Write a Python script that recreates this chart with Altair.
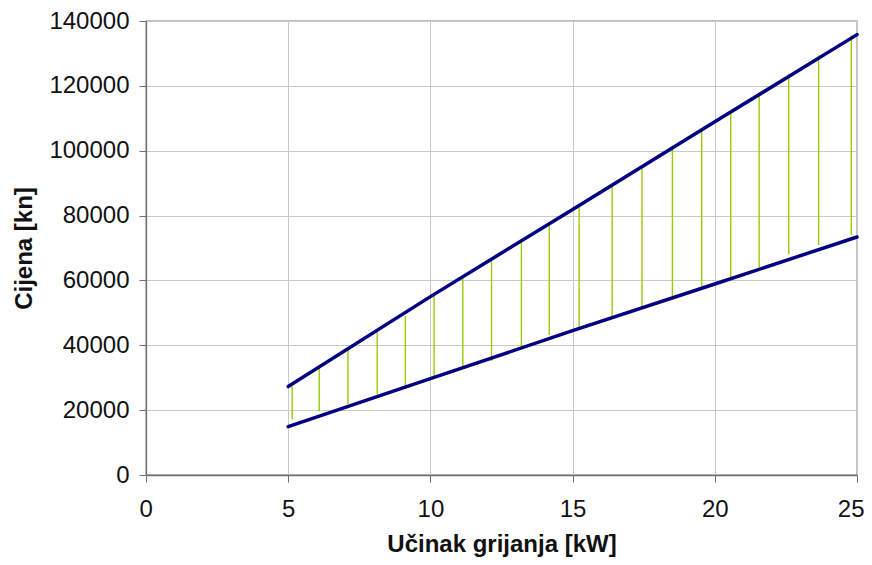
import altair as alt
import pandas as pd

# green high-low lines
x_pts = [5.14, 6.09, 7.10, 8.13, 9.12, 10.13, 11.14, 12.15, 13.20, 14.18,
         15.23, 16.39, 17.44, 18.51, 19.54, 20.56, 21.56, 22.60, 23.65, 24.80]
high = [27360, 33280, 39230, 44530, 49040, 55180, 60570, 66830, 72140, 77660,
        83180, 89530, 95050, 101580, 106700, 112010, 117740, 123750, 129400, 135530]
low = [17140, 19690, 21930, 24900, 26960, 30030, 33280, 35120, 39230, 43210,
       45360, 48870, 51280, 55180, 57630, 60680, 63950, 68060, 70910, 73980]

# trend lines
trend_x = [5, 10, 15, 20, 25]
upper_trend = [27300, 55000, 81900, 108900, 135800]
lower_trend = [14900, 29700, 44500, 58900, 73400]

x_ticks = [0, 5, 10, 15, 20, 25]
y_ticks = [0, 20000, 40000, 60000, 80000, 100000, 120000, 140000]

df_hl = pd.DataFrame({"x": x_pts, "high": high, "low": low})
df_tr = pd.DataFrame({
    "x": trend_x + trend_x,
    "y": upper_trend + lower_trend,
    "s": ["upper"] * len(trend_x) + ["lower"] * len(trend_x),
})

FONT = "Liberation Sans"
FS = 24

xscale = alt.Scale(domain=[0, 25], nice=False, zero=False)
yscale = alt.Scale(domain=[0, 140000], nice=False)

xaxis = alt.Axis(
    values=x_ticks, format="d", title="Učinak grijanja [kW]",
    grid=True, gridColor="#c8c8c8", gridWidth=1,
    domainColor="#707070", domainWidth=1.3, tickColor="#707070", tickSize=7,
    labelFontSize=FS, labelFont=FONT, labelColor="#111111", labelPadding=15,
    labelFlush=True, labelFlushOffset=7, labelOverlap=False,
    titleFontSize=FS, titleFont=FONT, titleFontWeight="bold", titleColor="#111111",
    titleBaseline="alphabetic", titleY=76,
)
yaxis = alt.Axis(
    values=y_ticks, format="d", title="Cijena [kn]",
    grid=True, gridColor="#c8c8c8", gridWidth=1,
    domainColor="#707070", domainWidth=1.3, tickColor="#707070", tickSize=7,
    labelFontSize=FS, labelFont=FONT, labelColor="#111111", labelPadding=10,
    labelFlush=False, labelOverlap=False,
    titleFontSize=FS, titleFont=FONT, titleFontWeight="bold", titleColor="#111111",
    titleBaseline="alphabetic", titleX=-115, titleY=227, titleAngle=270,
    titleAlign="center",
)

rules = alt.Chart(df_hl).mark_rule(color="#99cc00", strokeWidth=1.4).encode(
    x=alt.X("x:Q", scale=xscale, axis=xaxis),
    y=alt.Y("high:Q", scale=yscale, axis=yaxis),
    y2="low:Q",
)

lines = alt.Chart(df_tr).mark_line(color="#000080", strokeWidth=3.5, strokeCap="round").encode(
    x=alt.X("x:Q", scale=xscale),
    y=alt.Y("y:Q", scale=yscale),
    detail="s:N",
)

chart = alt.layer(rules, lines).properties(
    width=711, height=454,
    autosize=alt.AutoSizeParams(type="none"),
    padding={"left": 138, "top": 13, "right": 7, "bottom": 82},
).configure_view(stroke="#808080", strokeWidth=1.3)

chart.save("out.html", embed_options={"renderer": "svg", "actions": False})
